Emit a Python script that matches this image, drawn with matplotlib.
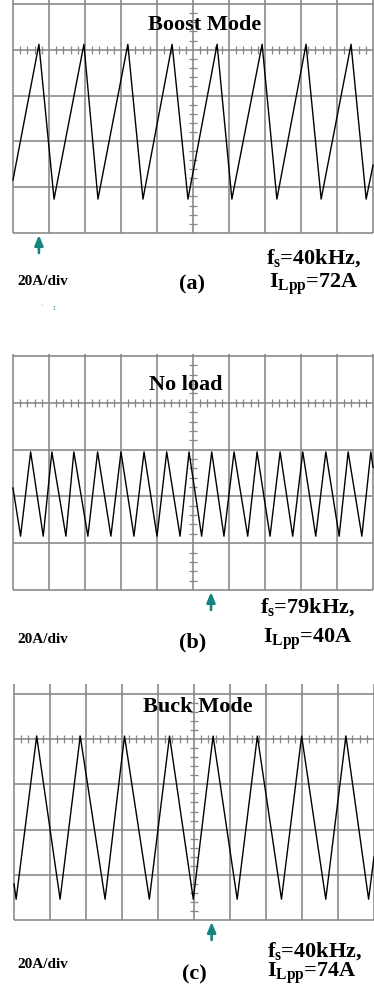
import numpy as np
import matplotlib
matplotlib.use("Agg")
import matplotlib.pyplot as plt

W, H = 374, 987

plt.rcParams["font.family"] = ["Liberation Serif", "DejaVu Serif"]
plt.rcParams["font.weight"] = "bold"
plt.rcParams["mathtext.fontset"] = "custom"
plt.rcParams["mathtext.rm"] = "Liberation Serif:bold"
plt.rcParams["mathtext.it"] = "Liberation Serif:bold"
plt.rcParams["mathtext.bf"] = "Liberation Serif:bold"

# inductor current traces, read off the scope screens in divisions
# (x: 0..10 across, y: 0..5 up from the bottom grid line)
boost_peak_x = [0.72, 1.97, 3.19, 4.42, 5.67, 6.92, 8.14, 9.39]
boost_trough_x = [1.14, 2.36, 3.61, 4.86, 6.08, 7.33, 8.56, 9.81]
boost_levels = (4.12, 0.74)
boost_ends = (1.16, 1.48)

noload_peak_x = [0.49, 1.08, 1.69, 2.35, 3.00, 3.64, 4.27, 4.89,
                 5.52, 6.14, 6.78, 7.42, 8.05, 8.69, 9.31, 9.94]
noload_trough_x = [0.21, 0.84, 1.47, 2.08, 2.72, 3.36, 4.00, 4.64,
                   5.24, 5.86, 6.52, 7.14, 7.77, 8.41, 9.06, 9.69]
noload_levels = (2.95, 1.15)
noload_ends = (2.18, 2.62)

buck_peak_x = [0.63, 1.84, 3.07, 4.32, 5.53, 6.76, 7.99, 9.22]
buck_trough_x = [0.06, 1.28, 2.53, 3.76, 4.98, 6.20, 7.43, 8.66, 9.85]
buck_levels = (4.07, 0.46)
buck_ends = (0.80, 1.40)

titles = ["Boost Mode", "No load", "Buck Mode"]
labels = ["(a)", "(b)", "(c)"]
freqs = ["40kHz", "79kHz", "40kHz"]
ripples = ["72A", "40A", "74A"]
scale_label = "20A/div"
trigger_x = [0.72, 5.5, 5.49]

# screen placement in pixels
top_px = [5, 357, 695]
bot_px = [234, 591, 921]
left_px = [13, 13, 14]
vtop_px = [0, 355, 685]

title_xy = [(205, 30), (186, 390), (198, 712)]
label_xy = [(192, 284), (193, 642), (194, 974)]
scale_xy = [(17, 285), (17, 643), (17, 968)]
fs_xy = [(314, 264), (308, 613), (315, 957)]
ilpp_xy = [(314, 288), (308, 643), (312, 977)]

grid_c = "#868686"
teal = "#178380"

traces = [
    (boost_peak_x, boost_trough_x, boost_levels, boost_ends),
    (noload_peak_x, noload_trough_x, noload_levels, noload_ends),
    (buck_peak_x, buck_trough_x, buck_levels, buck_ends),
]

fig = plt.figure(figsize=(W / 100, H / 100), dpi=100)

for i in range(3):
    t, b, l = top_px[i], bot_px[i], left_px[i]
    ax = fig.add_axes([l / W, 1 - b / H, 360 / W, (b - t) / H])
    ax.set_xlim(0, 10)
    ax.set_ylim(0, 5)
    ax.axis("off")
    div_h = (b - t) / 5.0

    # graticule
    ext = (t - vtop_px[i]) / div_h
    ax.vlines(np.arange(0, 11), 0, 5 + ext, color=grid_c, lw=1.15, clip_on=False)
    ax.hlines(np.arange(0, 6), 0, 10, color=grid_c, lw=1.15, clip_on=False)
    minor = np.arange(0, 10.01, 0.2)
    minor = minor[np.abs(minor - np.round(minor)) > 0.01]
    ax.vlines(minor, 4 - 4 / div_h, 4 + 4 / div_h, color=grid_c, lw=0.9)
    yminor = np.arange(0, 5.01, 0.2)
    yminor = yminor[np.abs(yminor - np.round(yminor)) > 0.01]
    ax.hlines(yminor, 5 - 4 / 36, 5 + 4 / 36, color=grid_c, lw=0.9)

    # trace
    px, tx, (hi, lo), (y0, y1) = traces[i]
    pts = sorted([(x, hi) for x in px] + [(x, lo) for x in tx])
    xs = [0] + [p[0] for p in pts] + [10]
    ys = [y0] + [p[1] for p in pts] + [y1]
    ax.plot(xs, ys, color="black", lw=1.0, clip_on=False)

    # trigger arrow
    ax.annotate("", xy=(trigger_x[i], -2 / div_h), xytext=(trigger_x[i], -20 / div_h),
                arrowprops=dict(arrowstyle="-|>,head_length=0.6,head_width=0.25",
                                color=teal, lw=1.9, mutation_scale=10,
                                shrinkA=0, shrinkB=0),
                annotation_clip=False)

    fig.text(title_xy[i][0] / W, 1 - title_xy[i][1] / H, titles[i],
             ha="center", va="baseline", fontsize=16, fontweight="bold")
    fig.text(label_xy[i][0] / W, 1 - label_xy[i][1] / H, labels[i],
             ha="center", va="center", fontsize=16, fontweight="bold")
    fig.text(scale_xy[i][0] / W, 1 - scale_xy[i][1] / H, scale_label,
             ha="left", va="baseline", fontsize=11, fontweight="bold")
    fig.text(fs_xy[i][0] / W, 1 - fs_xy[i][1] / H, r"$f_s$=" + freqs[i] + ",",
             ha="center", va="baseline", fontsize=16, fontweight="bold")
    fig.text(ilpp_xy[i][0] / W, 1 - ilpp_xy[i][1] / H, r"$I_{Lpp}$=" + ripples[i],
             ha="center", va="baseline", fontsize=16, fontweight="bold")

# stray specks in the scan
fig.text(40 / W, 1 - 310 / H, "'", color="#c8c8c8", fontsize=6)
fig.text(52 / W, 1 - 310 / H, ":", color=teal, fontsize=6)

fig.savefig("out.png", dpi=100)
